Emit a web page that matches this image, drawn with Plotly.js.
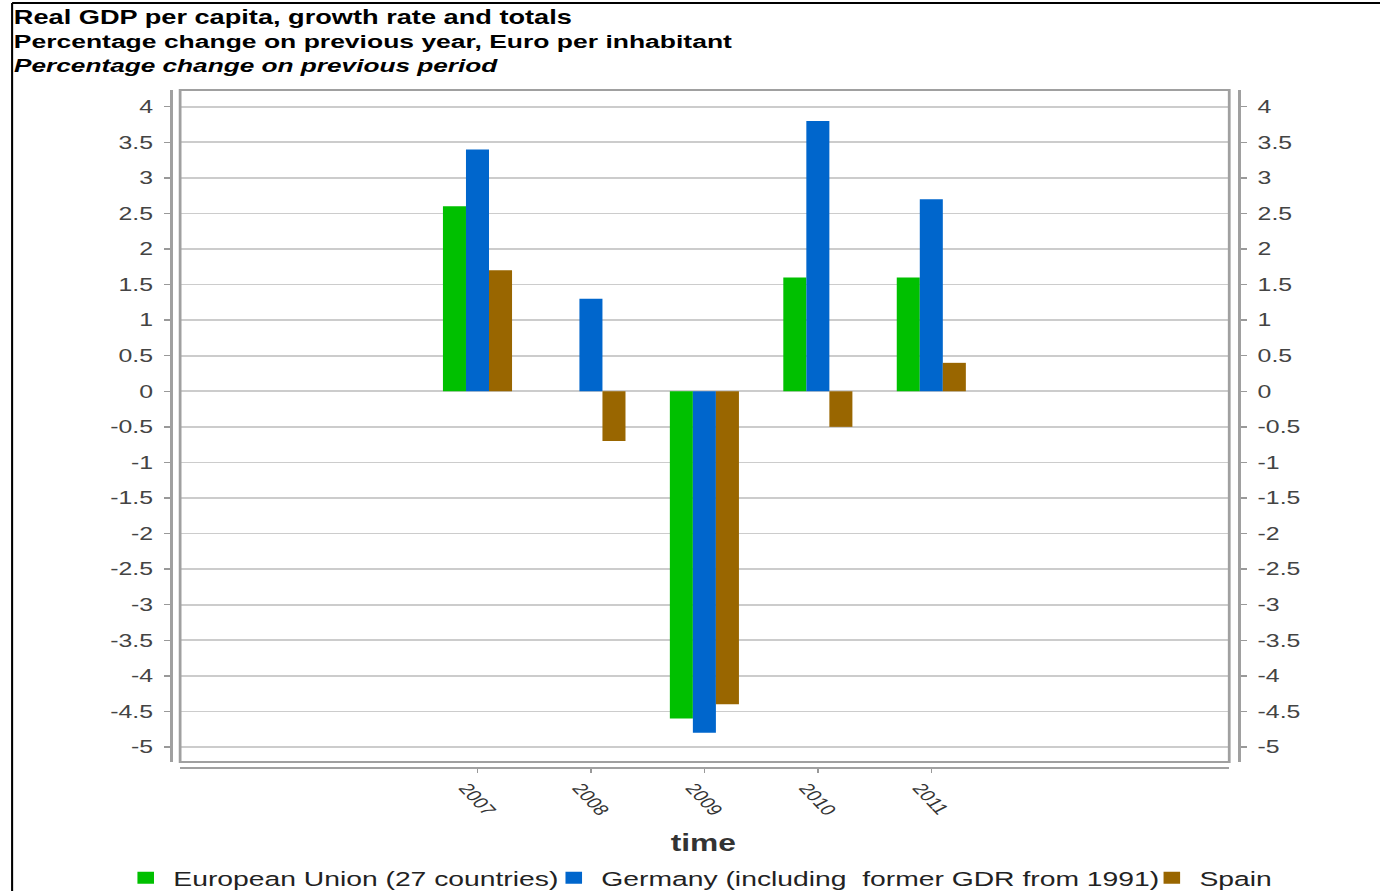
<!DOCTYPE html>
<html><head><meta charset="utf-8">
<script src="https://cdn.plot.ly/plotly-3.0.1.min.js"></script>
<style>
html,body{margin:0;padding:0;background:#fff;overflow:hidden;width:1380px;height:891px}
#chart{width:1000px;height:891px;transform:scaleX(1.38);transform-origin:0 0}
</style></head><body><div id="chart"></div>
<script>
const years = ['2007', '2008', '2009', '2010', '2011'];
const euValues = [2.6, 0, -4.6, 1.6, 1.6];
const deValues = [3.4, 1.3, -4.8, 3.8, 2.7];
const esValues = [1.7, -0.7, -4.4, -0.5, 0.4];
const seriesNames = ['European Union (27 countries)', 'Germany (including \u00a0former GDR from 1991)', 'Spain'];
const seriesColors = ['#00c000', '#0066cc', '#996600'];
const yTickVals = [4, 3.5, 3, 2.5, 2, 1.5, 1, 0.5, 0, -0.5, -1, -1.5, -2, -2.5, -3, -3.5, -4, -4.5, -5];
const yTickText = ['4', '3.5', '3', '2.5', '2', '1.5', '1', '0.5', '0', '-0.5', '-1', '-1.5', '-2', '-2.5', '-3', '-3.5', '-4', '-4.5', '-5'];
const titleLine1 = 'Real GDP per capita, growth rate and totals';
const titleLine2 = 'Percentage change on previous year, Euro per inhabitant';
const titleLine3 = 'Percentage change on previous period';
const xTitle = 'time';

// geometry helpers (final-pixel positions -> paper fractions)
const S = 1.38, W = 1000, H = 891;
const PL = 171, PR = 1239, PT = 90, PB = 768;
const px = x => (x - PL) / (PR - PL);
const py = y => (PB - y) / (PB - PT);

const FONT = 'Liberation Sans, Arial, sans-serif';
const legendIds = ['legend', 'legend2', 'legend3'];
const legendX = [118, 546, 1144];
const allSeries = [euValues, deValues, esValues];
const traces = allSeries.map((vals, i) => ({
  type: 'bar', x: years, y: vals, name: seriesNames[i], legend: legendIds[i],
  marker: {color: seriesColors[i], line: {width: 0}},
  hoverinfo: 'x+y+name'
}));
traces.push({type: 'scatter', x: [], y: [], yaxis: 'y2', showlegend: false, hoverinfo: 'skip'});

const yRange = [-5.211, 4.235];
const axisCommon = {
  range: yRange, tickmode: 'array', tickvals: yTickVals, ticktext: yTickText,
  ticks: 'outside', ticklen: 4.5, tickwidth: 1.5, tickcolor: '#999',
  showline: true, linecolor: '#a0a0a0', linewidth: 2.2, zeroline: false,
  tickfont: {family: FONT, size: 18, color: '#444'}, fixedrange: true,
  domain: [py(762), 1], anchor: 'free', ticklabelstandoff: 4
};

const legendBase = {
  orientation: 'h', xanchor: 'left', y: py(878), yanchor: 'middle',
  font: {family: FONT, size: 20.5, color: '#222'}, bgcolor: 'rgba(0,0,0,0)',
  itemclick: false, itemdoubleclick: false, tracegroupgap: 0
};

const layout = {
  width: W, height: H,
  margin: {l: PL / S, r: W - PR / S, t: PT, b: H - PB, pad: 0, autoexpand: false},
  paper_bgcolor: '#fff', plot_bgcolor: '#fff',
  barmode: 'group', bargap: 0.391, bargroupgap: 0,
  showlegend: true,
  xaxis: {
    type: 'category', domain: [px(180), px(1229)], anchor: 'free', position: 0,
    range: [-2.621, 6.626], showline: true, linecolor: '#a0a0a0', linewidth: 2,
    ticks: 'outside', ticklen: 4, tickcolor: '#999', tickangle: 55, ticklabelshift: -8,
    tickfont: {family: FONT, size: 15.5, color: '#333'}, showgrid: false, zeroline: false,
    fixedrange: true
  },
  yaxis: Object.assign({}, axisCommon, {position: 0, side: 'left', showgrid: true, gridcolor: '#cccccc', gridwidth: 1.6}),
  yaxis2: Object.assign({}, axisCommon, {position: 1, side: 'right', overlaying: 'y', showgrid: false}),
  legend: Object.assign({}, legendBase, {x: px(legendX[0])}),
  legend2: Object.assign({}, legendBase, {x: px(legendX[1])}),
  legend3: Object.assign({}, legendBase, {x: px(legendX[2])}),
  shapes: [
    {type: 'rect', xref: 'paper', yref: 'paper', x0: px(180), x1: px(1229), y0: py(762), y1: py(90),
     line: {color: '#a0a0a0', width: 2}, layer: 'above'},
    {type: 'line', xref: 'paper', yref: 'paper', x0: px(12), x1: px(12), y0: py(3), y1: py(900),
     line: {color: '#000', width: 1.5}},
    {type: 'line', xref: 'paper', yref: 'paper', x0: px(12), x1: px(1400), y0: py(3), y1: py(3),
     line: {color: '#000', width: 2}}
  ],
  annotations: [
    {text: '<b>' + titleLine1 + '</b>', xref: 'paper', yref: 'paper', x: px(11), y: py(17), xanchor: 'left', yanchor: 'middle',
     showarrow: false, font: {family: FONT, size: 19.7, color: '#000'}},
    {text: '<b>' + titleLine2 + '</b>', xref: 'paper', yref: 'paper', x: px(11), y: py(42), xanchor: 'left', yanchor: 'middle',
     showarrow: false, font: {family: FONT, size: 19.2, color: '#000'}},
    {text: '<b><i>' + titleLine3 + '</i></b>', xref: 'paper', yref: 'paper', x: px(11), y: py(66), xanchor: 'left', yanchor: 'middle',
     showarrow: false, font: {family: FONT, size: 19, color: '#000'}},
    {text: '<b>' + xTitle + '</b>', xref: 'paper', yref: 'paper', x: px(703), y: py(843), xanchor: 'center', yanchor: 'middle',
     showarrow: false, font: {family: FONT, size: 23, color: '#333'}}
  ]
};

Plotly.newPlot('chart', traces, layout, {displayModeBar: false, staticPlot: true});
</script></body></html>
